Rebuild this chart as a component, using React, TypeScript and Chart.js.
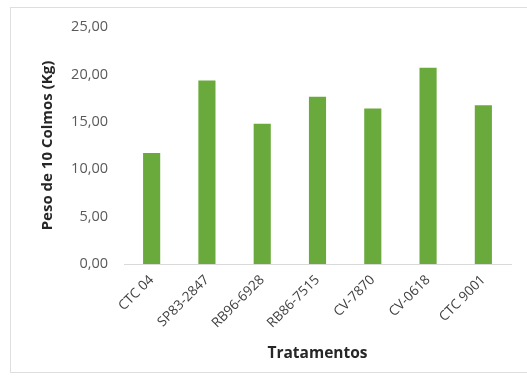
import React, { useEffect, useRef } from "react";
import { Chart, registerables } from "chart.js";

Chart.register(...registerables);

const categories = ["CTC 04", "SP83-2847", "RB96-6928", "RB86-7515", "CV-7870", "CV-0618", "CTC 9001"];
const pesoValues = [11.7, 19.35, 14.8, 17.65, 16.4, 20.7, 16.75];
const yTicks = [0, 5, 10, 15, 20, 25];

const FONT = "'Open Sans', 'Noto Sans', sans-serif";

export default function App() {
  const canvasRef = useRef<HTMLCanvasElement | null>(null);

  useEffect(() => {
    const canvas = canvasRef.current;
    if (!canvas) return;
    const chart = new Chart(canvas, {
      type: "bar",
      data: {
        labels: categories,
        datasets: [
          {
            label: "Peso de 10 Colmos (Kg)",
            data: pesoValues,
            backgroundColor: "#6aaa3c",
            borderWidth: 0,
            barPercentage: 0.62,
            categoryPercentage: 0.5,
          },
        ],
      },
      options: {
        responsive: false,
        animation: false,
        maintainAspectRatio: false,
        layout: { padding: { top: 27, right: 16, left: 0, bottom: 0 } },
        plugins: {
          legend: { display: false },
          tooltip: { enabled: false },
        },
        scales: {
          y: {
            min: 0,
            max: 25,
            afterBuildTicks: (scale: any) => {
              scale.ticks = yTicks.map((v) => ({ value: v }));
            },
            afterFit: (scale: any) => {
              scale.width = 124;
            },
            grid: { display: false, drawTicks: false },
            border: { display: false },
            ticks: {
              padding: 16,
              color: "#595959",
              font: { family: FONT, size: 14.5 },
              callback: (v: any) => Number(v).toFixed(2).replace(".", ","),
            },
            title: {
              display: true,
              text: "Peso de 10 Colmos (Kg)",
              color: "#262626",
              font: { family: FONT, size: 15, weight: "bold" },
              padding: { top: 39, bottom: 0 },
            },
          },
          x: {
            afterFit: (scale: any) => {
              scale.height = 383 - 264;
            },
            grid: { display: false, drawTicks: false },
            border: { display: true, color: "#d9d9d9", width: 1 },
            ticks: {
              maxRotation: 45,
              minRotation: 45,
              padding: 8,
              color: "#404040",
              font: { family: FONT, size: 13.5 },
            },
            title: {
              display: true,
              text: "Tratamentos",
              color: "#262626",
              font: { family: FONT, size: 15.5, weight: "bold" },
              padding: { top: 0, bottom: 20 },
            },
          },
        },
      },
    });
    return () => chart.destroy();
  }, []);

  return (
    <div
      style={{
        position: "fixed",
        left: 0,
        top: 0,
        width: 527,
        height: 383,
        background: "#ffffff",
        overflow: "hidden",
      }}
    >
      <div
        style={{
          position: "absolute",
          left: 10,
          top: 7,
          width: 530,
          height: 366,
          border: "1px solid #dedede",
          boxSizing: "border-box",
        }}
      />
      <canvas
        ref={canvasRef}
        width={527}
        height={383}
        style={{ position: "absolute", left: 0, top: 0, width: 527, height: 383 }}
      />
    </div>
  );
}
